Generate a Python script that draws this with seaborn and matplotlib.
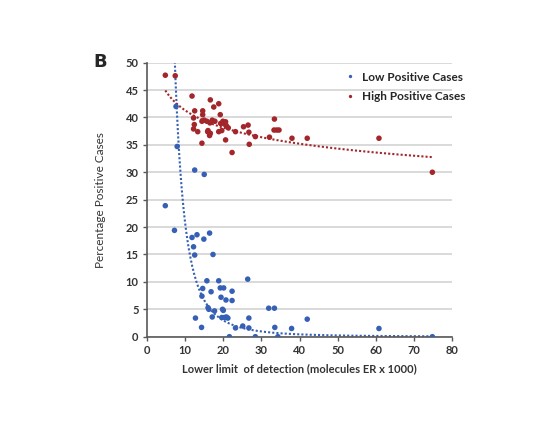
import numpy as np
import pandas as pd
import matplotlib
matplotlib.use("Agg")
import matplotlib.pyplot as plt
import seaborn as sns

# ------------------------------------------------------------
# data
# ------------------------------------------------------------
low_x = [4.8, 7.2, 7.6, 7.9, 12.5, 15.0, 11.8, 13.1, 14.9, 16.4, 12.2, 12.5, 17.3,
         15.7, 18.8, 26.4, 14.6, 16.8, 19.2, 20.1, 19.4, 22.3, 14.4, 20.7, 22.3,
         16.0, 16.2, 19.8, 20.0, 17.7, 17.1, 19.6, 20.3, 20.8, 21.2, 12.7, 14.3,
         23.2, 25.1, 26.7, 26.7, 21.6, 28.4, 31.9, 33.4, 33.5, 34.3, 37.9, 42.0,
         60.8, 74.8]
low_y = [23.9, 19.4, 42.0, 34.7, 30.4, 29.6, 18.1, 18.6, 17.8, 18.9, 16.4, 14.9, 15.0,
         10.2, 10.2, 10.5, 8.8, 8.2, 8.9, 8.9, 7.2, 8.3, 7.4, 6.7, 6.6,
         5.3, 5.0, 5.0, 4.8, 4.7, 3.6, 3.5, 3.5, 3.6, 3.4, 3.4, 1.7,
         1.6, 1.95, 3.4, 1.6, 0.0, 0.0, 5.2, 5.2, 1.7, 0.0, 1.5, 3.2,
         1.5, 0.0]

high_x = [4.8, 7.4, 11.8, 16.6, 17.5, 18.8, 12.5, 14.6, 14.6, 19.2, 12.2, 12.4, 12.2,
          13.3, 14.4, 15.0, 15.7, 16.5, 17.1, 17.8, 16.0, 16.6, 16.4, 15.9, 19.3,
          19.9, 20.3, 20.8, 21.3, 20.6, 18.8, 19.6, 23.2, 14.4, 20.6, 22.3, 25.3,
          26.5, 26.7, 28.4, 26.8, 32.1, 33.4, 33.3, 34.0, 34.6, 38.0, 42.0, 60.8,
          74.8]
high_y = [47.7, 47.6, 43.9, 43.2, 41.9, 42.5, 41.2, 41.2, 40.5, 40.5, 39.9, 38.7, 37.9,
          37.4, 39.3, 39.5, 39.3, 39.0, 39.5, 39.3, 37.6, 37.1, 36.7, 37.4, 38.9,
          39.3, 38.8, 38.5, 38.1, 39.2, 37.4, 37.6, 37.4, 35.3, 35.9, 33.6, 38.3,
          38.6, 37.3, 36.5, 35.1, 36.4, 39.7, 37.7, 37.7, 37.7, 36.2, 36.2, 36.2,
          30.0]

# power trendlines y = a * x^b (Excel style)
low_trend = (13070.0, -2.8)
high_trend = (53.8, -0.115)

labels = ["Low Positive Cases", "High Positive Cases"]
colors = ["#3560B5", "#A3262A"]

df = pd.DataFrame({
    "x": low_x + high_x,
    "y": low_y + high_y,
    "series": [labels[0]] * len(low_x) + [labels[1]] * len(high_x),
})

# ------------------------------------------------------------
# plot
# ------------------------------------------------------------
sns.set_style("white")
plt.rcParams["font.family"] = ["Lato", "DejaVu Sans"]

fig = plt.figure(figsize=(5.6, 4.23), dpi=100)
ax = fig.add_axes([0.2625, 0.204, 0.545, 0.648])

ax.yaxis.grid(True, color="#D9D9D9", linewidth=1.4)
ax.set_axisbelow(True)

sns.scatterplot(data=df, x="x", y="y", hue="series", palette=colors,
                s=16, edgecolor="none", ax=ax, zorder=3)

for (a, b), xs, c in [(low_trend, low_x, colors[0]), (high_trend, high_x, colors[1])]:
    xx = np.linspace(min(xs), max(xs), 400)
    ax.plot(xx, a * xx ** b, linestyle=(0, (1, 1)), color=c, linewidth=1.5, zorder=2)

ax.set_xlim(0, 80)
ax.set_ylim(0, 50)
ax.set_xticks(range(0, 81, 10))
ax.set_yticks(range(0, 51, 5))
ax.tick_params(axis="both", direction="out", length=3, width=1, color="#595959",
               left=True, bottom=True,
               labelsize=8, labelcolor="#333333", pad=3)
for lab in ax.get_xticklabels() + ax.get_yticklabels():
    lab.set_fontweight("bold")

for side in ["top", "right"]:
    ax.spines[side].set_visible(False)
for side in ["left", "bottom"]:
    ax.spines[side].set_color("#595959")
    ax.spines[side].set_linewidth(1.2)

ax.set_xlabel("Lower limit  of detection (molecules ER x 1000)", fontsize=8,
              fontweight="bold", color="#333333", labelpad=5)
ax.set_ylabel("Percentage Positive Cases", fontsize=8.5, color="#333333", labelpad=14)

ax.legend(loc="upper left", bbox_to_anchor=(328 / 560, 1 - 61 / 423),
          bbox_transform=fig.transFigure, frameon=False,
          markerscale=0.6, handletextpad=0.0, labelspacing=0.75,
          prop={"weight": "bold", "size": 8.5})

fig.text(93 / 560, 1 - 62 / 423, "B", fontsize=13, fontweight="bold",
         family="DejaVu Sans", va="center", ha="left")

fig.savefig("out.png", dpi=100)
